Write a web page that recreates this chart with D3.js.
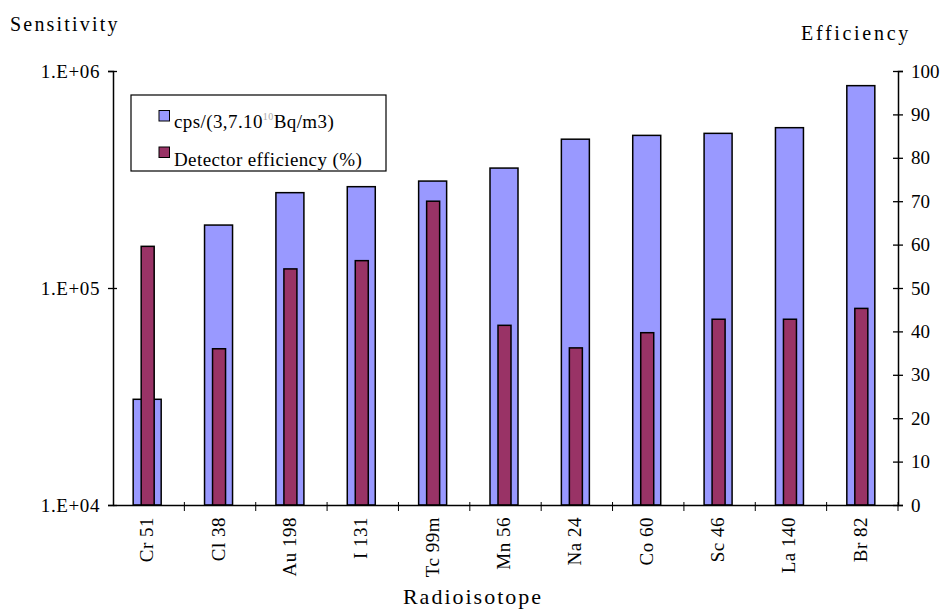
<!DOCTYPE html>
<html>
<head>
<meta charset="utf-8">
<script src="https://cdn.jsdelivr.net/npm/d3@7"></script>
<style>
  body { margin: 0; background: #fff; }
  svg text { font-family: "Liberation Serif", "DejaVu Serif", serif; fill: #000; }
</style>
</head>
<body>
<svg id="chart" width="943" height="611"></svg>
<script>
// Chart data
const isotopes = ['Cr 51', 'Cl 38', 'Au 198', 'I 131', 'Tc 99m', 'Mn 56', 'Na 24', 'Co 60', 'Sc 46', 'La 140', 'Br 82'];
const sensitivity = [30700, 195000, 275000, 293000, 311000, 357000, 485000, 505000, 516000, 548000, 856000];
const efficiency = [59.6, 36.0, 54.4, 56.3, 70.0, 41.4, 36.2, 39.7, 42.8, 42.8, 45.3];
const sensTicks = [1e4, 1e5, 1e6];
const effTicks = [0, 10, 20, 30, 40, 50, 60, 70, 80, 90, 100];

const svg = d3.select('#chart');
const width = 943, height = 611;
const margin = { top: 71, left: 113, right: 45, bottom: 106 };
const innerW = width - margin.left - margin.right;
const innerH = height - margin.top - margin.bottom;

const g = svg.append('g').attr('transform', `translate(${margin.left},${margin.top})`);

// scales
const x = d3.scaleBand().domain(isotopes).range([0, innerW]).padding(0);
const yLeft = d3.scaleLog().domain([1e4, 1e6]).range([innerH, 0]);
const yRight = d3.scaleLinear().domain([0, 100]).range([innerH, 0]);

const blueW = 28, redW = 13;

// sensitivity bars (blue)
g.selectAll('rect.sens')
  .data(isotopes)
  .join('rect')
  .attr('class', 'sens')
  .attr('x', d => x(d) + x.bandwidth() / 2 - 1.5 - blueW / 2)
  .attr('y', (d, i) => yLeft(sensitivity[i]))
  .attr('width', blueW)
  .attr('height', (d, i) => innerH - yLeft(sensitivity[i]))
  .attr('fill', '#9999ff')
  .attr('stroke', '#000')
  .attr('stroke-width', 1.5);

// efficiency bars (dark red)
g.selectAll('rect.eff')
  .data(isotopes)
  .join('rect')
  .attr('class', 'eff')
  .attr('x', d => x(d) + x.bandwidth() / 2 - 1 - redW / 2)
  .attr('y', (d, i) => yRight(efficiency[i]))
  .attr('width', redW)
  .attr('height', (d, i) => innerH - yRight(efficiency[i]))
  .attr('fill', '#993366')
  .attr('stroke', '#000')
  .attr('stroke-width', 1.5);

// left axis
const leftAxis = g.append('g')
  .call(d3.axisLeft(yLeft).tickValues(sensTicks).tickSize(5)
    .tickFormat(d => '1.E+0' + Math.round(Math.log10(d))));
leftAxis.selectAll('.tick line').attr('x1', -5).attr('x2', 4);
leftAxis.selectAll('.tick text').attr('x', -13).attr('font-size', 19).attr('letter-spacing', 0.6);

// right axis
const rightAxis = g.append('g')
  .attr('transform', `translate(${innerW},0)`)
  .call(d3.axisRight(yRight).tickValues(effTicks).tickSize(5));
rightAxis.selectAll('.tick line').attr('x1', -5).attr('x2', 5);
rightAxis.selectAll('.tick text').attr('x', 13).attr('font-size', 19);

// bottom axis, ticks at category boundaries
const bottom = g.append('g').attr('transform', `translate(0,${innerH})`);
bottom.call(d3.axisBottom(x).tickSize(0).tickFormat(''));
bottom.selectAll('.tick text').remove();
bottom.selectAll('line.sep')
  .data(isotopes)
  .join('line')
  .attr('class', 'sep')
  .attr('x1', d => x(d) + x.bandwidth())
  .attr('x2', d => x(d) + x.bandwidth())
  .attr('y1', -3)
  .attr('y2', 6)
  .attr('stroke', '#000');
bottom.selectAll('text.lab')
  .data(isotopes)
  .join('text')
  .attr('class', 'lab')
  .attr('transform', d => `translate(${x(d) + x.bandwidth() / 2 + 4.5},12) rotate(-90)`)
  .attr('text-anchor', 'end')
  .attr('font-size', 19)
  .attr('letter-spacing', 0.5)
  .text(d => d);

svg.selectAll('.domain').attr('stroke', '#000').attr('stroke-width', 1.5);
svg.selectAll('.tick line').attr('stroke', '#000').attr('stroke-width', 1.3);
svg.selectAll('.tick text').attr('font-family', '"Liberation Serif", serif').attr('fill', '#000');

// axis titles
svg.append('text').attr('x', 10).attr('y', 31).attr('font-size', 20).attr('letter-spacing', 2.2).text('Sensitivity');
svg.append('text').attr('x', 801).attr('y', 40).attr('font-size', 20).attr('letter-spacing', 2.7).text('Efficiency');
svg.append('text').attr('x', 473).attr('y', 604)
  .attr('text-anchor', 'middle').attr('font-size', 22).attr('letter-spacing', 2).text('Radioisotope');

// legend
const legend = svg.append('g');
legend.append('rect').attr('x', 131).attr('y', 95).attr('width', 255).attr('height', 76)
  .attr('fill', '#fff').attr('stroke', '#000').attr('stroke-width', 1.2);
legend.append('rect').attr('x', 159).attr('y', 110.5).attr('width', 10.5).attr('height', 10.5)
  .attr('fill', '#9999ff').attr('stroke', '#000');
legend.append('rect').attr('x', 159).attr('y', 147).attr('width', 10.5).attr('height', 10.5)
  .attr('fill', '#993366').attr('stroke', '#000');
const t1 = legend.append('text').attr('x', 174).attr('y', 128).attr('font-size', 19).attr('letter-spacing', 0.4);
t1.append('tspan').text('cps/(3,7.10');
t1.append('tspan').attr('dy', -8).attr('font-size', 10).attr('fill', '#aaa').text('10');
t1.append('tspan').attr('dy', 8).text('Bq/m3)');
legend.append('text').attr('x', 174).attr('y', 166).attr('font-size', 19).attr('letter-spacing', 0.4)
  .text('Detector efficiency (%)');
</script>
</body>
</html>
